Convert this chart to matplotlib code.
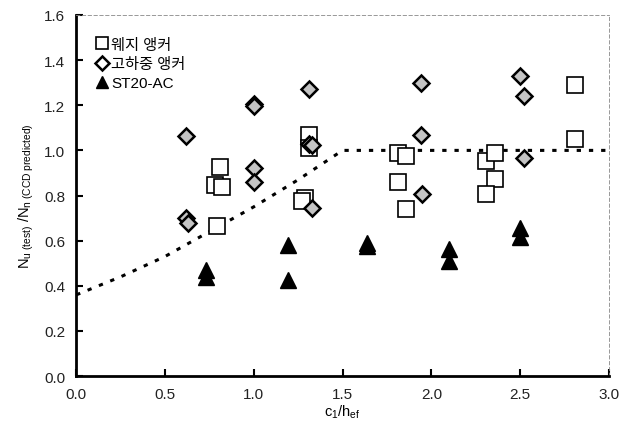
import matplotlib
matplotlib.use('Agg')
import matplotlib.pyplot as plt

plt.rcParams['font.family'] = ['Liberation Sans', 'Noto Sans CJK KR', 'DejaVu Sans']
plt.rcParams['mathtext.fontset'] = 'custom'
plt.rcParams['mathtext.rm'] = 'Liberation Sans'
plt.rcParams['mathtext.it'] = 'Liberation Sans'

# wedge anchors
wedge_x = [0.79, 0.78, 0.82, 0.81, 1.29, 1.27, 1.31, 1.31,
           1.81, 1.86, 1.81, 1.86, 2.31, 2.36, 2.36, 2.31, 2.81, 2.81]
wedge_y = [0.665, 0.845, 0.84, 0.925, 0.79, 0.775, 1.07, 1.01,
           0.99, 0.975, 0.86, 0.74, 0.955, 0.99, 0.875, 0.805, 1.29, 1.05]

# heavy-duty anchors
heavy_x = [0.62, 0.63, 0.62, 1.00, 1.00, 1.00, 1.00, 1.31, 1.31, 1.33, 1.33,
           1.94, 1.94, 1.95, 2.50, 2.52, 2.52]
heavy_y = [0.70, 0.68, 1.063, 1.205, 1.195, 0.922, 0.86, 1.27, 1.03, 1.025, 0.743,
           1.297, 1.07, 0.807, 1.331, 1.243, 0.966]

# ST20-AC
st_x = [0.73, 0.73, 1.19, 1.19, 1.64, 1.64, 2.10, 2.10, 2.50, 2.50]
st_y = [0.47, 0.44, 0.58, 0.425, 0.59, 0.575, 0.565, 0.51, 0.655, 0.615]

# CCD prediction curve
ccd_x = [0.0, 0.25, 0.5, 0.75, 1.0, 1.25, 1.5, 3.0]
ccd_y = [0.36, 0.44, 0.53, 0.64, 0.75, 0.87, 1.0, 1.0]

fig = plt.figure(figsize=(6.2, 4.31), dpi=100)
ax = fig.add_axes([0.123, 0.125, 0.859, 0.838])

ax.plot(ccd_x, ccd_y, color='black', lw=2.2, linestyle=(0, (1.4, 2.6)), zorder=1)
ax.plot(wedge_x, wedge_y, 's', ms=11, mfc='white', mec='black', mew=1.2,
        ls='none', label='웨지 앵커', zorder=2)
ax.plot(heavy_x, heavy_y, 'D', ms=7.8, mfc='#c4c4c4', mec='black', mew=1.8,
        ls='none', label='고하중 앵커', zorder=3)
ax.plot(st_x, st_y, '^', ms=11, color='black', ls='none', label='ST20-AC', zorder=3)

ax.set_xlim(0, 3.0)
ax.set_ylim(0, 1.6)
ax.set_xticks([0, 0.5, 1.0, 1.5, 2.0, 2.5, 3.0])
ax.set_yticks([0, 0.2, 0.4, 0.6, 0.8, 1.0, 1.2, 1.4, 1.6])
ax.xaxis.set_major_formatter(plt.FormatStrFormatter('%.1f'))
ax.yaxis.set_major_formatter(plt.FormatStrFormatter('%.1f'))
ax.tick_params(direction='in', length=5, width=1.5, labelsize=11, pad=8,
               labelcolor='#222222')
ax.tick_params(top=False, right=False)

for side in ('left', 'bottom'):
    ax.spines[side].set_linewidth(2)
for side in ('top', 'right'):
    ax.spines[side].set_linewidth(0.6)
    ax.spines[side].set_linestyle((0, (4, 3)))
    ax.spines[side].set_color('#888888')

ax.set_xlabel(r'c$_1$/h$_{ef}$', fontsize=10.5, labelpad=1)
ax.set_ylabel(r'N$_{u\ (test)}$ /N$_{n\ (CCD\ predicted)}$', fontsize=10.5, labelpad=6)

leg = ax.legend(loc='upper left', bbox_to_anchor=(0.01, 0.975), frameon=False,
                fontsize=11, handletextpad=0.15, handlelength=0.9,
                labelspacing=0.35, markerscale=0.85)
# legend diamond is drawn open in the key
leg.legend_handles[1].set_markerfacecolor('white')

fig.savefig('out.png', dpi=100)
